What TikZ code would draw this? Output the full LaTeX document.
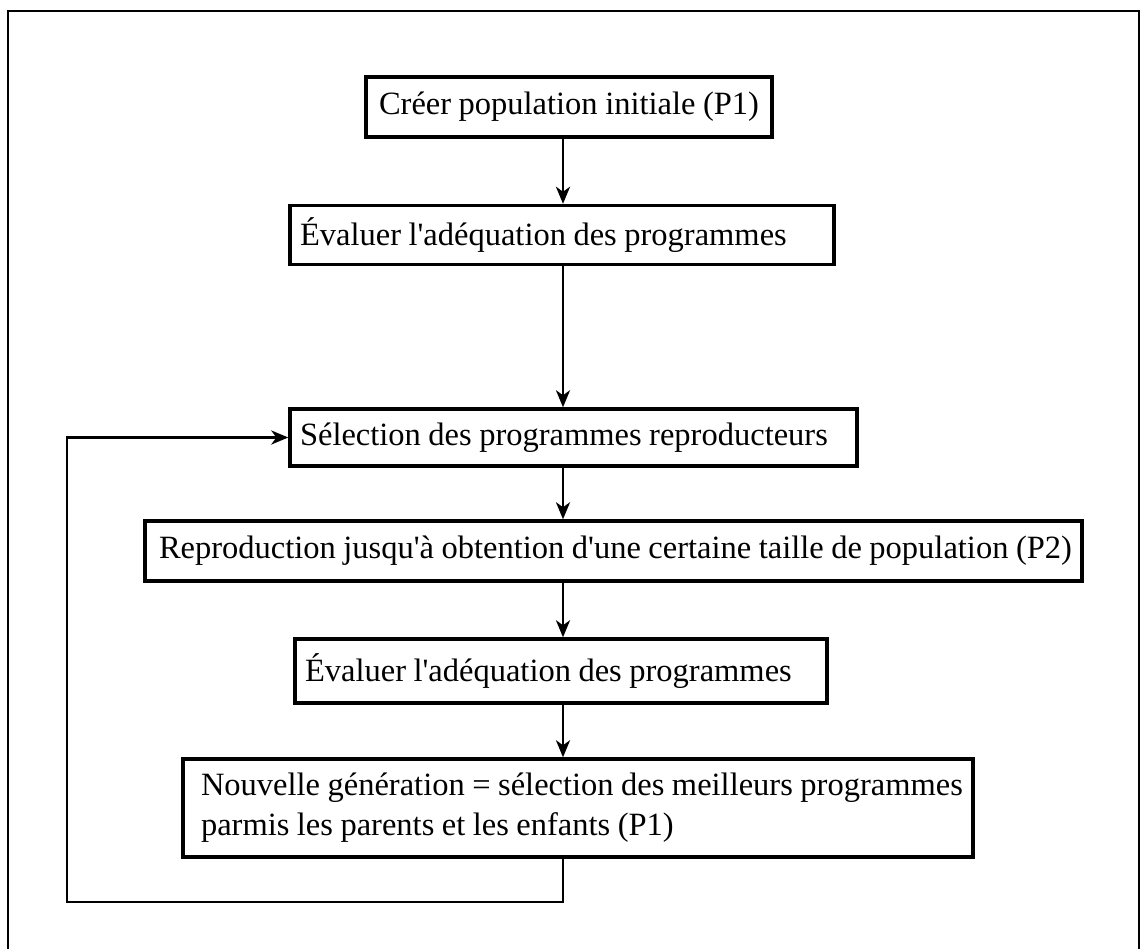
\documentclass[tikz,border=0pt]{standalone}
\usepackage{fontspec}
\setmainfont{Liberation Serif}[Ligatures=TeXOff]
\usetikzlibrary{arrows.meta}
\newcommand{\boxfont}{\fontsize{32.5}{40}\selectfont}
\begin{document}
\begin{tikzpicture}[x=1pt,y=-1pt,
  stepbox/.style={draw, line width=3.4pt, inner xsep=10pt, inner ysep=0pt,
    align=left, font=\boxfont, anchor=center,
    % natural word spacing instead of the ragged-right default
    execute at begin node={\spaceskip=7.5pt plus 1pt minus 1pt\relax}},
  flow/.style={line width=2.8pt, -{Stealth[length=17pt,width=14pt,inset=5pt]}},
  frame/.style={line width=2.8pt}]
  \useasboundingbox (0,0) rectangle (1141,949);
  % outer frame, running off the lower edge
  \draw[frame] (8,949) -- (8,11) -- (1139,11) -- (1139,949);

  % process boxes
  \node[stepbox, align=center, text width=386pt, minimum height=60pt] (b1) at (569,107)
    {\mbox{Créer population initiale (P1)}};
  \node[stepbox, text width=524pt, minimum height=59pt] (b2) at (562,235)
    {\mbox{Évaluer l'adéquation des programmes}};
  \node[stepbox, text width=547pt, minimum height=57pt] (b3) at (573.5,437.5)
    {\mbox{Sélection des programmes reproducteurs}};
  \node[stepbox, inner xsep=14pt, text width=909pt, minimum height=60pt] (b4) at (613.5,551)
    {\mbox{Reproduction jusqu'à obtention d'une certaine taille de population (P2)}};
  \node[stepbox, text width=512pt, minimum height=64pt] (b5) at (561,671)
    {\mbox{Évaluer l'adéquation des programmes}};
  \node[stepbox, inner xsep=18pt, text width=754pt, minimum height=98pt] (b6) at (578,808)
    {\mbox{Nouvelle génération = sélection des meilleurs programmes}\\
     \mbox{parmis les parents et les enfants (P1)}};

  % vertical spine of the flow
  \coordinate (spine) at (563,0);
  \coordinate (loopbottom) at (0,902);
  \coordinate (loopleft) at (67,0);

  \draw[flow] (b1.south -| spine) -- (b2.north -| spine);
  \draw[flow] (b2.south -| spine) -- (b3.north -| spine);
  \draw[flow] (b3.south -| spine) -- (b4.north -| spine);
  \draw[flow] (b4.south -| spine) -- (b5.north -| spine);
  \draw[flow] (b5.south -| spine) -- (b6.north -| spine);

  % feedback loop back to the selection step
  \draw[flow] (b6.south -| spine) -- (spine |- loopbottom) -- (loopleft |- loopbottom)
    -- (loopleft |- b3.west) -- (b3.west);
\end{tikzpicture}
\end{document}
